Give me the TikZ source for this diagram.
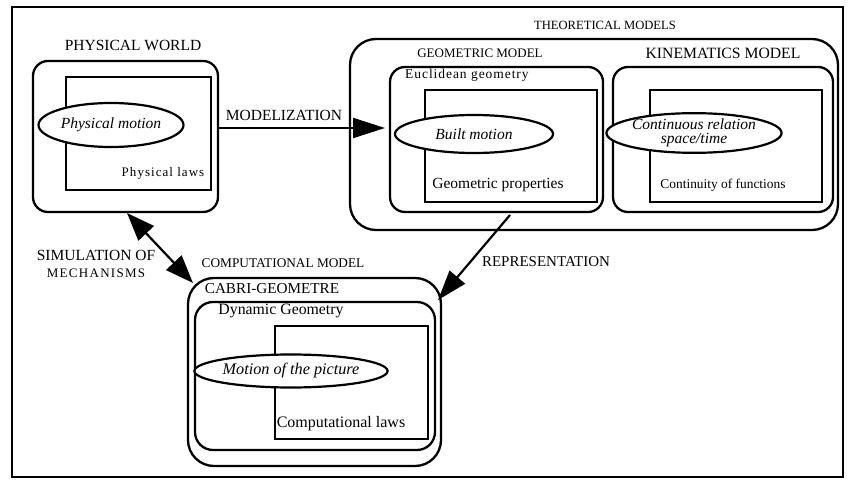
\documentclass[tikz,border=0pt]{standalone}
\usepackage{fontspec}
\setmainfont{Liberation Serif}
\usetikzlibrary{arrows.meta,shapes.geometric}
\begin{document}
\begin{tikzpicture}[x=1pt,y=-1pt]
\tikzset{
  rbox/.style={draw, line width=2.3pt, rounded corners=#1, inner sep=0pt},
  sqbox/.style={draw, line width=2.3pt, inner sep=0pt},
  oval/.style={draw, ellipse, line width=2.2pt, inner sep=0pt, fill=white, align=center,
               font=\fontsize{15.5}{16}\selectfont\itshape},
  lbl/.style={inner sep=0pt, font=\fontsize{15.5}{17}\selectfont},
  smalllbl/.style={inner sep=0pt, font=\fontsize{13}{15}\selectfont},
  conn/.style={line width=2.2pt, -{Triangle[length=30pt,width=20pt]}},
  dconn/.style={line width=2.2pt, {Triangle[length=28pt,width=21pt]}-{Triangle[length=28pt,width=21pt]}}
}
\useasboundingbox (0,0) rectangle (848,481);
\fill[white] (0,0) rectangle (848,481);
% outer frame
\node[sqbox, line width=1.8pt, minimum width=831pt, minimum height=470pt] (frame) at (427.5,242) {};

% physical world
\node[lbl] (pwtitle) at (133,45) {PHYSICAL WORLD};
\node[rbox=15pt, minimum width=185pt, minimum height=151pt] (pwbox) at (125.5,136.5) {};
\node[sqbox, minimum width=145pt, minimum height=113pt] (pwrect) at (138.5,133.5) {};
\node[oval, minimum width=145pt, minimum height=44pt] (pwell) at (111,125) {Physical motion};
\node[smalllbl, font=\fontsize{13}{15}\selectfont\addfontfeatures{LetterSpace=8}] (pwlaws) at (163,173) {Physical laws};

% theoretical models
\node[smalllbl, font=\fontsize{12.6}{15}\selectfont] (thtitle) at (605,25) {THEORETICAL MODELS};
\node[rbox=26pt, minimum width=488pt, minimum height=191pt] (thbox) at (594,134.5) {};

% geometric model
\node[smalllbl] (geotitle) at (480,53) {GEOMETRIC MODEL};
\node[rbox=15pt, minimum width=213pt, minimum height=145pt] (geobox) at (496.5,139.5) {};
\node[smalllbl, anchor=west, font=\fontsize{13.5}{15}\selectfont\addfontfeatures{LetterSpace=7}] (eucl) at (405,75) {Euclidean geometry};
\node[sqbox, minimum width=172pt, minimum height=112pt] (georect) at (511,146) {};
\node[oval, minimum width=158pt, minimum height=38pt] (geoell) at (474,134) {Built motion};
\node[lbl] (geoprop) at (498,185) {Geometric properties};

% kinematics model
\node[lbl, font=\fontsize{15.7}{17}\selectfont] (kintitle) at (723,53) {KINEMATICS MODEL};
\node[rbox=15pt, minimum width=220pt, minimum height=145pt] (kinbox) at (723,139.5) {};
\node[sqbox, minimum width=172pt, minimum height=112pt] (kinrect) at (736,146) {};
\node[oval, minimum width=152pt, minimum height=37pt, font=\fontsize{15.5}{14}\selectfont\itshape] (kinell) at (694,133) {Continuous relation\\space/time};
\node[smalllbl, font=\fontsize{13.4}{15}\selectfont] (kinfun) at (723,185) {Continuity of functions};

% computational model
\node[smalllbl, font=\fontsize{13.3}{15}\selectfont] (comptitle) at (283,263) {COMPUTATIONAL MODEL};
\node[rbox=26pt, minimum width=253pt, minimum height=188pt] (compbox) at (314.5,372) {};
\node[lbl, font=\fontsize{15.2}{17}\selectfont] (cabri) at (272,289) {CABRI-GEOMETRE};
\node[rbox=18pt, minimum width=240pt, minimum height=148pt] (dynbox) at (315,376) {};
\node[lbl, font=\fontsize{15.8}{17}\selectfont] (dyntitle) at (281,311) {Dynamic Geometry};
\node[sqbox, minimum width=153pt, minimum height=113pt] (comprect) at (351.5,382.5) {};
\node[oval, minimum width=157pt, minimum height=33pt, font=\fontsize{16.2}{17}\selectfont\itshape] (compell) at (291,371) {Motion of the picture};
\node[lbl, font=\fontsize{16}{17}\selectfont] (complaws) at (341,424) {Computational laws};

% connectors
\coordinate (modtip) at (385,128);
\draw[conn, -{Triangle[length=32pt,width=20pt]}] (pwbox.east |- modtip) -- (modtip);
\node[lbl] (modlbl) at (284,115) {MODELIZATION};

\coordinate (repstart) at (510,215);
\coordinate (reptip) at (438,300);
\draw[conn] (repstart) -- (reptip);
\node[lbl, font=\fontsize{15}{17}\selectfont] (replbl) at (546,262) {REPRESENTATION};

\coordinate (simtop) at (127,213);
\coordinate (simbot) at (193,283);
\draw[dconn] (simtop) -- (simbot);
\node[lbl, align=center, font=\fontsize{15.5}{17}\selectfont] (simlbl) at (96,264) {SIMULATION OF\\{\fontsize{13}{17}\selectfont\addfontfeatures{LetterSpace=10}MECHANISMS}};
\end{tikzpicture}
\end{document}
